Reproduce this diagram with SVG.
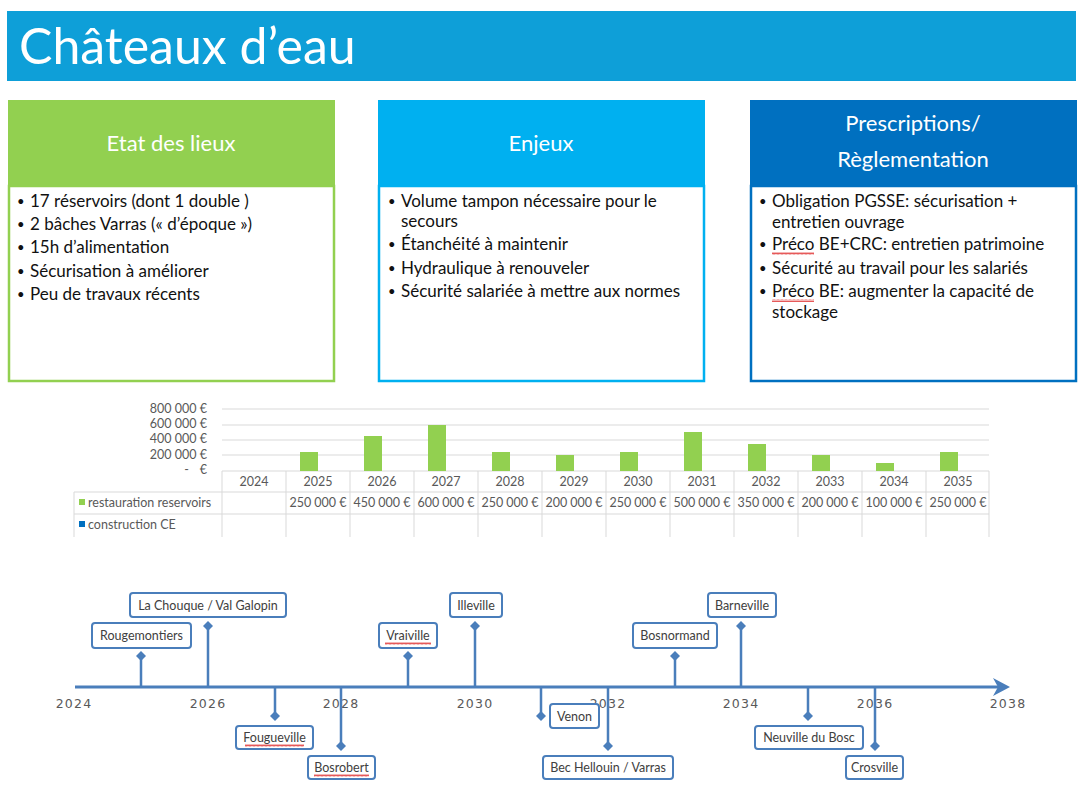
<svg xmlns="http://www.w3.org/2000/svg" width="1083" height="787" viewBox="0 0 1083 787">
<style>
.f{font-family:Lato,"Open Sans","Liberation Sans",sans-serif}
.hd{font-family:Lato,"Open Sans","Liberation Sans",sans-serif;font-size:22px;fill:#fff;text-anchor:middle}
.bt{font-family:Lato,"Open Sans","Liberation Sans",sans-serif;font-size:17px;fill:#111}
.bu{font-size:13px}
.ct{font-family:Lato,"Open Sans","Liberation Sans",sans-serif;font-size:12.5px;fill:#595959}
.cm{text-anchor:middle}
.ax{font-family:"DejaVu Sans",sans-serif;font-size:12.5px;fill:#595959;text-anchor:middle;letter-spacing:1.2px}
.grid{stroke:#D9D9D9;stroke-width:1}
.bar{fill:#92D050}
.lb{fill:#fff;stroke:#4A7EBB;stroke-width:2}
.lt{font-family:Lato,"Open Sans","Liberation Sans",sans-serif;font-size:12.5px;fill:#404040;text-anchor:middle}
.stem{stroke:#4A7EBB;stroke-width:2.5;fill:none}
.dm{fill:#4A7EBB}
</style>
<defs>
<pattern id="wavy" width="4" height="3" patternUnits="userSpaceOnUse">
<path d="M0,2.5 L1,0.5 L2,2.5 L3,0.5 L4,2.5" fill="none" stroke="#E03030" stroke-width="0.8"/>
</pattern>
<path id="dmd" d="M0,-5 L5,0 L0,5 L-5,0 Z"/>
</defs>

<g id="title">
<rect x="7" y="11" width="1069" height="70" fill="#0E9FD8"/>
<text x="19" y="64" class="f" font-size="50" fill="#fff">Châteaux d’eau</text>
</g>

<g id="etat">
<rect x="9" y="186" width="325" height="195" fill="#fff" stroke="#92D050" stroke-width="2.5"/>
<rect x="8" y="100" width="327" height="86" fill="#92D050"/>
<text x="171" y="151" class="hd">Etat des lieux</text>
<g class="bt">
<text x="17" y="206" class="bu">•</text><text x="30" y="207">17 réservoirs (dont 1 double )</text>
<text x="17" y="229" class="bu">•</text><text x="30" y="230">2 bâches Varras (« d’époque »)</text>
<text x="17" y="252" class="bu">•</text><text x="30" y="253">15h d’alimentation</text>
<text x="17" y="276" class="bu">•</text><text x="30" y="277">Sécurisation à améliorer</text>
<text x="17" y="299" class="bu">•</text><text x="30" y="300">Peu de travaux récents</text>
</g>
</g>

<g id="enjeux">
<rect x="379" y="186" width="325" height="195" fill="#fff" stroke="#00B0F0" stroke-width="2.5"/>
<rect x="378" y="100" width="327" height="86" fill="#00B0F0"/>
<text x="541" y="151" class="hd">Enjeux</text>
<g class="bt">
<text x="388" y="206" class="bu">•</text><text x="401" y="207">Volume tampon nécessaire pour le</text>
<text x="401" y="227">secours</text>
<text x="388" y="249" class="bu">•</text><text x="401" y="250">Étanchéité à maintenir</text>
<text x="388" y="273" class="bu">•</text><text x="401" y="274">Hydraulique à renouveler</text>
<text x="388" y="296" class="bu">•</text><text x="401" y="297">Sécurité salariée à mettre aux normes</text>
</g>
</g>

<g id="prescriptions">
<rect x="751" y="186" width="325" height="195" fill="#fff" stroke="#0070C0" stroke-width="2.5"/>
<rect x="750" y="100" width="327" height="86" fill="#0070C0"/>
<text x="913" y="131" class="hd">Prescriptions/</text>
<text x="913" y="167" class="hd">Règlementation</text>
<g class="bt">
<text x="759" y="206" class="bu">•</text><text x="772" y="207">Obligation PGSSE: sécurisation +</text>
<text x="772" y="228">entretien ouvrage</text>
<text x="759" y="249" class="bu">•</text><text x="772" y="250">Préco BE+CRC: entretien patrimoine</text>
<text x="759" y="273" class="bu">•</text><text x="772" y="274">Sécurité au travail pour les salariés</text>
<text x="759" y="296" class="bu">•</text><text x="772" y="297">Préco BE: augmenter la capacité de</text>
<text x="772" y="318">stockage</text>
</g>
<rect x="772" y="252" width="42" height="3" fill="url(#wavy)"/>
<rect x="772" y="299" width="42" height="3" fill="url(#wavy)"/>
</g>

<g id="chart">
<g class="grid">
<line x1="222" y1="409" x2="989" y2="409"/>
<line x1="222" y1="425" x2="989" y2="425"/>
<line x1="222" y1="440" x2="989" y2="440"/>
<line x1="222" y1="455" x2="989" y2="455"/>
<line x1="222" y1="471" x2="989" y2="471"/>
<line x1="74" y1="492" x2="989" y2="492"/>
<line x1="74" y1="514" x2="989" y2="514"/>
<line x1="74" y1="492" x2="74" y2="537"/>
<line x1="222" y1="471" x2="222" y2="537"/>
<line x1="286" y1="471" x2="286" y2="537"/>
<line x1="350" y1="471" x2="350" y2="537"/>
<line x1="414" y1="471" x2="414" y2="537"/>
<line x1="478" y1="471" x2="478" y2="537"/>
<line x1="542" y1="471" x2="542" y2="537"/>
<line x1="606" y1="471" x2="606" y2="537"/>
<line x1="670" y1="471" x2="670" y2="537"/>
<line x1="734" y1="471" x2="734" y2="537"/>
<line x1="798" y1="471" x2="798" y2="537"/>
<line x1="862" y1="471" x2="862" y2="537"/>
<line x1="926" y1="471" x2="926" y2="537"/>
<line x1="989" y1="471" x2="989" y2="537"/>
</g>
<g class="ct" text-anchor="end">
<text x="207" y="413">800 000 €</text>
<text x="207" y="428">600 000 €</text>
<text x="207" y="443">400 000 €</text>
<text x="207" y="459">200 000 €</text>
<text x="207" y="474">€</text>
<text x="189" y="474">-</text>
</g>
<g>
<rect class="bar" x="300" y="452" width="18" height="19"/>
<rect class="bar" x="364" y="436" width="18" height="35"/>
<rect class="bar" x="428" y="425" width="18" height="46"/>
<rect class="bar" x="492" y="452" width="18" height="19"/>
<rect class="bar" x="556" y="455" width="18" height="16"/>
<rect class="bar" x="620" y="452" width="18" height="19"/>
<rect class="bar" x="684" y="432" width="18" height="39"/>
<rect class="bar" x="748" y="444" width="18" height="27"/>
<rect class="bar" x="812" y="455" width="18" height="16"/>
<rect class="bar" x="876" y="463" width="18" height="8"/>
<rect class="bar" x="940" y="452" width="18" height="19"/>
</g>
<g class="ct cm">
<text x="254" y="486">2024</text>
<text x="318" y="486">2025</text>
<text x="382" y="486">2026</text>
<text x="446" y="486">2027</text>
<text x="510" y="486">2028</text>
<text x="574" y="486">2029</text>
<text x="638" y="486">2030</text>
<text x="702" y="486">2031</text>
<text x="766" y="486">2032</text>
<text x="830" y="486">2033</text>
<text x="894" y="486">2034</text>
<text x="958" y="486">2035</text>
<text x="318" y="507">250 000 €</text>
<text x="382" y="507">450 000 €</text>
<text x="446" y="507">600 000 €</text>
<text x="510" y="507">250 000 €</text>
<text x="574" y="507">200 000 €</text>
<text x="638" y="507">250 000 €</text>
<text x="702" y="507">500 000 €</text>
<text x="766" y="507">350 000 €</text>
<text x="830" y="507">200 000 €</text>
<text x="894" y="507">100 000 €</text>
<text x="958" y="507">250 000 €</text>
</g>
<rect x="79" y="499" width="6" height="6" fill="#92D050"/>
<text x="88" y="507" class="ct">restauration reservoirs</text>
<rect x="79" y="521" width="6" height="6" fill="#0070C0"/>
<text x="88" y="529" class="ct">construction CE</text>
</g>

<g id="axis">
<line x1="75" y1="687" x2="1000" y2="687" stroke="#4A7EBB" stroke-width="3"/>
<path d="M1010,687 L993,678 L998,687 L993,696 Z" fill="#4A7EBB"/>
<g class="ax">
<text x="74" y="708">2024</text>
<text x="208" y="708">2026</text>
<text x="341" y="708">2028</text>
<text x="475" y="708">2030</text>
<text x="608" y="708">2032</text>
<text x="741" y="708">2034</text>
<text x="875" y="708">2036</text>
<text x="1008" y="708">2038</text>
</g>
</g>

<g id="connectors">
<path class="stem" d="M141,687 V656 M208,687 V626 M275,687 V716 M341,687 V746 M408,687 V656 M475,687 V626 M541,687 V716 M608,687 V746 M675,687 V656 M741,687 V626 M808,687 V716 M875,687 V746"/>
<g class="dm">
<use href="#dmd" x="141" y="656"/><use href="#dmd" x="208" y="626"/><use href="#dmd" x="275" y="716"/><use href="#dmd" x="341" y="746"/>
<use href="#dmd" x="408" y="656"/><use href="#dmd" x="475" y="626"/><use href="#dmd" x="541" y="716"/><use href="#dmd" x="608" y="746"/>
<use href="#dmd" x="675" y="656"/><use href="#dmd" x="741" y="626"/><use href="#dmd" x="808" y="716"/><use href="#dmd" x="875" y="746"/>
</g>
</g>

<g id="m-rougemontiers"><rect class="lb" x="92" y="623" width="99" height="25" rx="3"/><text class="lt" x="141.5" y="640">Rougemontiers</text></g>
<g id="m-lachouque"><rect class="lb" x="130" y="593" width="156" height="24" rx="3"/><text class="lt" x="208" y="610">La Chouque / Val Galopin</text></g>
<g id="m-fougueville"><rect class="lb" x="236" y="726" width="77" height="23" rx="3"/><text class="lt" x="274.5" y="742">Fougueville</text><rect x="245" y="744" width="59" height="3" fill="url(#wavy)"/></g>
<g id="m-bosrobert"><rect class="lb" x="308" y="756" width="67" height="23" rx="3"/><text class="lt" x="341.5" y="772">Bosrobert</text><rect x="314" y="774" width="55" height="3" fill="url(#wavy)"/></g>
<g id="m-vraiville"><rect class="lb" x="379" y="623" width="58" height="25" rx="3"/><text class="lt" x="408" y="640">Vraiville</text><rect x="385" y="642" width="46" height="3" fill="url(#wavy)"/></g>
<g id="m-illeville"><rect class="lb" x="450" y="593" width="52" height="24" rx="3"/><text class="lt" x="476" y="610">Illeville</text></g>
<g id="m-venon"><rect class="lb" x="550" y="704" width="49" height="24" rx="3"/><text class="lt" x="574.5" y="721">Venon</text></g>
<g id="m-bechellouin"><rect class="lb" x="543" y="756" width="130" height="23" rx="3"/><text class="lt" x="608" y="772">Bec Hellouin / Varras</text></g>
<g id="m-bosnormand"><rect class="lb" x="633" y="623" width="84" height="25" rx="3"/><text class="lt" x="675" y="640">Bosnormand</text></g>
<g id="m-barneville"><rect class="lb" x="708" y="593" width="68" height="24" rx="3"/><text class="lt" x="742" y="610">Barneville</text></g>
<g id="m-neuville"><rect class="lb" x="755" y="726" width="108" height="23" rx="3"/><text class="lt" x="809" y="742">Neuville du Bosc</text></g>
<g id="m-crosville"><rect class="lb" x="846" y="756" width="57" height="23" rx="3"/><text class="lt" x="874.5" y="772">Crosville</text></g>
</svg>
